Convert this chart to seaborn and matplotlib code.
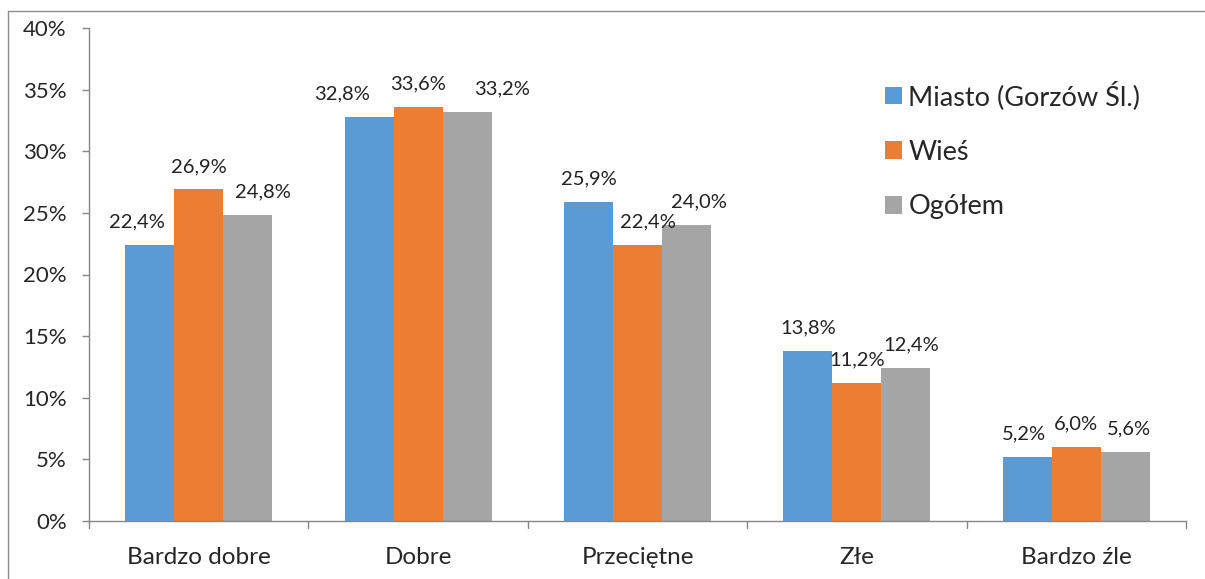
import pandas as pd
import matplotlib.pyplot as plt
import seaborn as sns
from matplotlib.lines import Line2D
from matplotlib.patches import Patch

categories = ['Bardzo dobre', 'Dobre', 'Przeciętne', 'Złe', 'Bardzo źle']
series = ['Miasto (Gorzów Śl.)', 'Wieś', 'Ogółem']
miasto = [22.4, 32.8, 25.9, 13.8, 5.2]
wies = [26.9, 33.6, 22.4, 11.2, 6.0]
ogolem = [24.8, 33.2, 24.0, 12.4, 5.6]
colors = ['#5B9BD5', '#ED7D31', '#A5A5A5']
y_ticks = [0, 5, 10, 15, 20, 25, 30, 35, 40]

# horizontal nudges (pixels) of the data labels, as placed in the original chart
label_dx = [[-13, -27, 0, 0, -3],
            [0, 0, 10, 0, 0],
            [15, 35, 12, 5, 4]]

sns.set_style("white")
plt.rcParams['font.family'] = ['Lato', 'DejaVu Sans']

rows = []
for name, vals in zip(series, [miasto, wies, ogolem]):
    for cat, v in zip(categories, vals):
        rows.append({'kategoria': cat, 'grupa': name, 'wartosc': v})
df = pd.DataFrame(rows)

fig = plt.figure(figsize=(12.05, 5.79), dpi=100)
ax = fig.add_axes([89 / 1205, 1 - 521 / 579, (1186 - 89) / 1205, (521 - 28) / 579])

sns.barplot(data=df, x='kategoria', y='wartosc', hue='grupa', order=categories,
            hue_order=series, palette=colors, width=0.67, saturation=1,
            linewidth=0, legend=False, ax=ax, errorbar=None)

# data labels
for cont, vals, dxs in zip(ax.containers, [miasto, wies, ogolem], label_dx):
    for p, v, dx in zip(cont.patches, vals, dxs):
        ax.annotate(f"{v:.1f}%".replace('.', ','),
                    (p.get_x() + p.get_width() / 2, p.get_height()),
                    xytext=(dx, 23), textcoords='offset pixels',
                    ha='center', va='center', fontsize=14.5, color='#222222')

ax.set_ylim(0, 40)
ax.set_xlim(-0.5, 4.5)
ax.set_yticks(y_ticks)
ax.set_yticklabels([f"{t}%" for t in y_ticks], fontsize=16)
ax.set_xlabel('')
ax.set_ylabel('')
ax.tick_params(axis='x', length=0, pad=19, labelsize=17.5)
ax.tick_params(axis='y', length=5, width=1, color='#868686', pad=11, left=True)

# boundary ticks on the category axis
for b in [-0.5, 0.5, 1.5, 2.5, 3.5, 4.5]:
    ax.plot([b, b], [0, -0.015], transform=ax.get_xaxis_transform(),
            color='#868686', lw=1, clip_on=False)

for s in ['top', 'right']:
    ax.spines[s].set_visible(False)
for s in ['left', 'bottom']:
    ax.spines[s].set_color('#868686')
    ax.spines[s].set_linewidth(1)

handles = [Patch(facecolor=c, edgecolor='none') for c in colors]
fig.legend(handles, series, loc='upper left', bbox_to_anchor=(874 / 1205, 1 - 70 / 579),
           frameon=False, fontsize=19.5, handlelength=0.62, handleheight=0.62,
           handletextpad=0.25, labelspacing=1.1, borderaxespad=0)

# outer chart border (only left and top visible in the crop)
fig.add_artist(Line2D([8 / 1205, 8 / 1205], [0, 1 - 11 / 579], color='#8c8c8c', lw=1))
fig.add_artist(Line2D([8 / 1205, 1], [1 - 11 / 579, 1 - 11 / 579], color='#8c8c8c', lw=1))

fig.savefig('out.png', dpi=100)
